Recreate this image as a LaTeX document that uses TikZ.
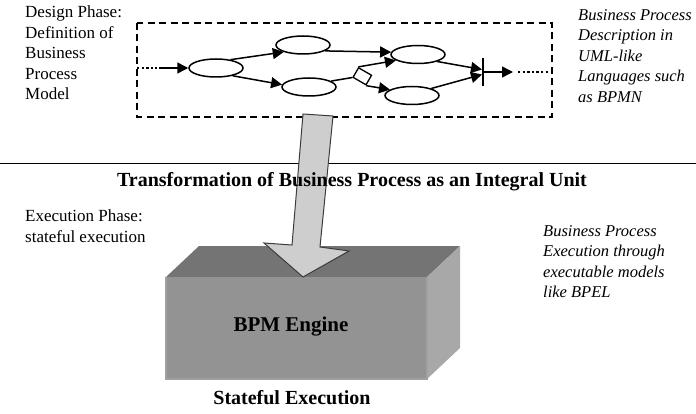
\documentclass[tikz,border=0pt]{standalone}
\usepackage{fontspec}
\setmainfont{Liberation Serif}
\usetikzlibrary{arrows.meta,shapes.geometric}

\definecolor{boxtop}{RGB}{116,116,116}
\definecolor{boxfront}{RGB}{147,147,147}
\definecolor{boxside}{RGB}{168,168,168}
\definecolor{boxedge}{RGB}{160,160,160}
\definecolor{bigarrow}{RGB}{206,206,206}
\definecolor{bigarrowline}{RGB}{60,60,60}

\tikzset{
  task/.style={draw, ellipse, line width=1.5pt, minimum width=54pt, minimum height=18pt, inner sep=0pt},
  gateway/.style={draw, rectangle, line width=1.3pt, minimum width=15pt, minimum height=11pt, inner sep=0pt, rotate=-30},
  flow/.style={line width=1.5pt, -{Triangle[length=11pt,width=11pt]}},
  plainflow/.style={line width=1.5pt},
  ellipsis/.style={line width=2.4pt, dash pattern=on 2.4pt off 2.2pt},
  phasebox/.style={line width=1.5pt, dash pattern=on 7pt off 4.5pt},
  note/.style={align=left, anchor=north west, inner sep=0pt, font=\fontsize{17}{20.5}\selectfont},
  inote/.style={note, font=\fontsize{16.5}{20.5}\selectfont\itshape},
  heading/.style={inner sep=0pt, font=\fontsize{20}{23}\selectfont\bfseries}
}

\begin{document}
\begin{tikzpicture}[x=1pt,y=-1pt]
\useasboundingbox (0,0) rectangle (696,414);

% design phase frame
\draw[phasebox] (137,23) rectangle (552,117);

% process model
\node[task] (t1) at (216,68) {};
\node[task] (t2) at (303,45) {};
\node[task] (t3) at (309,87) {};
\node[task] (t4) at (418,54.5) {};
\node[task] (t5) at (412,95.5) {};
\node[gateway] (gw) at (362.3,76.3) {};

\coordinate (inA) at (137,68);
\coordinate (inB) at (157,68);
\coordinate (inC) at (159,68);
\coordinate (joinTop) at (483,58);
\coordinate (joinBot) at (483,86);
\coordinate (joinIn1) at (482,69.5);
\coordinate (joinIn2) at (482,74.5);
\coordinate (outA) at (484,72);
\coordinate (outB) at (513,72);
\coordinate (outC) at (518,72);
\coordinate (outD) at (548,72);

\draw[ellipsis] (inA) -- (inB);
\draw[flow] (inC) -- (t1.west);
\draw[flow] (t1.30) -- (t2.200);
\draw[flow] (t1.-25) -- (t3.175);
\draw[flow] (t2.-15) -- (t4.175);
\draw[plainflow] (t3.15) -- (gw.south west);
\draw[flow] (gw.north west) -- (t4.195);
\draw[flow] (gw.south east) -- (t5.165);
\draw[flow] (t4.-20) -- (joinIn1);
\draw[flow] (t5.20) -- (joinIn2);
\draw[plainflow] (joinTop) -- (joinBot);
\draw[flow] (outA) -- (outB);
\draw[ellipsis] (outC) -- (outD);

% separator between the phases
\coordinate (sepL) at (0,163.5);
\coordinate (sepR) at (696,163.5);
\draw[line width=1.3pt] (sepL) -- (sepR);

% BPM engine block
\coordinate (fTL) at (166,277);
\coordinate (fTR) at (427,277);
\coordinate (fBR) at (427,379);
\coordinate (fBL) at (166,379);
\coordinate (bTL) at (199,246);
\coordinate (bTR) at (460,246);
\coordinate (bBR) at (460,348);
\fill[boxtop] (fTL) -- (bTL) -- (bTR) -- (fTR) -- cycle;
\fill[boxside] (fTR) -- (bTR) -- (bBR) -- (fBR) -- cycle;
\fill[boxfront] (fTL) rectangle (fBR);
\draw[boxedge, line width=1.2pt] (fTL) -- (fBL) -- (fBR) -- (fTR);

% transformation arrow
\draw[bigarrowline, fill=bigarrow, line width=1pt, line join=miter]
  (303,114) -- (333,116) -- (320,247) -- (349,251) -- (303,277)
  -- (264,243) -- (292,245) -- cycle;

% texts
\node[note] (design) at (25,6) {Design Phase:\\Definition of\\Business\\Process\\Model};
\node[inote] (bpmn) at (578,9) {Business Process\\Description in\\UML-like\\Languages such\\as BPMN};
\node[heading] (transf) at (352,182) {Transformation of Business Process as an Integral Unit};
\node[note] (exec) at (25,210) {Execution Phase:\\stateful execution};
\node[inote] (bpel) at (543,225) {Business Process\\Execution through\\executable models\\like BPEL};
\node[heading, font=\fontsize{21}{24}\selectfont\bfseries] (engine) at (291,327) {BPM Engine};
\node[heading] (stateful) at (292,398) {Stateful Execution};
\end{tikzpicture}
\end{document}
